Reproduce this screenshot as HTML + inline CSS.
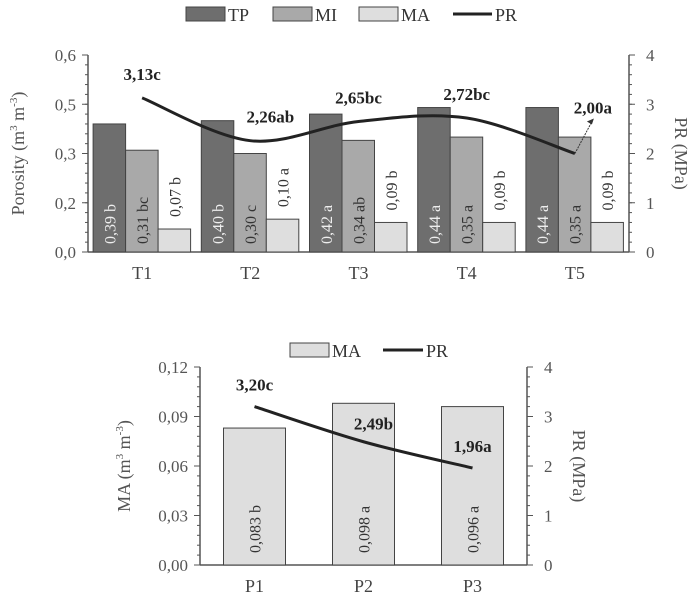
<!DOCTYPE html>
<html><head><meta charset="utf-8"><style>
html,body{margin:0;padding:0;background:#fff;}
svg{display:block;font-family:"Liberation Serif","Times New Roman",serif;}
</style></head><body>
<svg id="c" width="694" height="600"></svg>
<script>
const cats1=["T1","T2","T3","T4","T5"];
const tp=[0.39,0.40,0.42,0.44,0.44];
const mi=[0.31,0.30,0.34,0.35,0.35];
const ma=[0.07,0.10,0.09,0.09,0.09];
const tpLbl=["0,39 b","0,40 b","0,42 a","0,44 a","0,44 a"];
const miLbl=["0,31 bc","0,30 c","0,34 ab","0,35 a","0,35 a"];
const maLbl=["0,07 b","0,10 a","0,09 b","0,09 b","0,09 b"];
const pr1=[3.13,2.26,2.65,2.72,2.00];
const pr1Lbl=["3,13c","2,26ab","2,65bc","2,72bc","2,00a"];
const yTicks1=["0,0","0,2","0,3","0,5","0,6"];
const rTicks=["0","1","2","3","4"];
const cats2=["P1","P2","P3"];
const ma2=[0.083,0.098,0.096];
const ma2Lbl=["0,083 b","0,098 a","0,096 a"];
const pr2=[3.20,2.49,1.96];
const pr2Lbl=["3,20c","2,49b","1,96a"];
const yTicks2=["0,00","0,03","0,06","0,09","0,12"];

const svg=document.getElementById('c');
const NS="http://www.w3.org/2000/svg";
function el(t,a,p){const e=document.createElementNS(NS,t);for(const k in a)e.setAttribute(k,a[k]);(p||svg).appendChild(e);return e;}
function tx(x,y,s,a,name){const e=el('text',Object.assign({x:x,y:y},a));e.textContent=s;

return e;}
function smooth(pts){let d=`M${pts[0][0]},${pts[0][1]}`;for(let i=0;i<pts.length-1;i++){const p0=pts[i-1]||pts[i],p1=pts[i],p2=pts[i+1],p3=pts[i+2]||p2;
const c1=[p1[0]+(p2[0]-p0[0])/6,p1[1]+(p2[1]-p0[1])/6],c2=[p2[0]-(p3[0]-p1[0])/6,p2[1]-(p3[1]-p1[1])/6];
d+=` C${c1[0]},${c1[1]} ${c2[0]},${c2[1]} ${p2[0]},${p2[1]}`;}return d;}

function axes(L,R,T,B,yLabels,name){
  el('line',{x1:L,y1:T,x2:L,y2:B,stroke:'#555','stroke-width':1.5});
  el('line',{x1:R,y1:T,x2:R,y2:B,stroke:'#555','stroke-width':1.5});
  el('line',{x1:L,y1:B,x2:R,y2:B,stroke:'#555','stroke-width':1.5});
  const n=yLabels.length-1;
  for(let i=0;i<=n;i++){const y=B-(B-T)*i/n;
    el('line',{x1:L-6,y1:y,x2:L,y2:y,stroke:'#555'});
    tx(L-12,y+6,yLabels[i],{'text-anchor':'end','font-size':17,fill:'#555'},name+'-y-tick');
    el('line',{x1:R,y1:y,x2:R+6,y2:y,stroke:'#555'});
    tx(R+17,y+6,rTicks[i],{'font-size':17,fill:'#555'},name+'-y2-tick');
  }
  for(let i=0;i<=20;i++){const y=B-(B-T)*i/20;el('line',{x1:R,y1:y,x2:R+3,y2:y,stroke:'#555'});el('line',{x1:L-3,y1:y,x2:L,y2:y,stroke:'#555'});}
  tx(0,0,'PR (MPa)',{transform:`translate(${R+46},${(T+B)/2}) rotate(90)`,'text-anchor':'middle','font-size':18,fill:'#555'},name+'-y2-title');
}
function barLabel(x,y,s,fill,name){tx(0,0,s,{transform:`translate(${x+6},${y}) rotate(-90)`,'font-size':16,fill:fill},name);}

// Chart 1
{const L=88,R=629,T=55,B=252,yMax=0.6;
 const ys=v=>B-v/yMax*(B-T), yr=v=>B-v/4*(B-T);
 const cw=(R-L)/cats1.length;
 axes(L,R,T,B,yTicks1,"top");
 const t=tx(0,0,'',{transform:`translate(24,${(T+B)/2}) rotate(-90)`,'text-anchor':'middle','font-size':18,fill:'#555'},'top-y-title');
 t.innerHTML='Porosity (m<tspan font-size="11" dy="-7">3</tspan><tspan dy="7"> m</tspan><tspan font-size="11" dy="-7">-3</tspan><tspan dy="7">)</tspan>';
 const bw=32.5;
 cats1.forEach((c,i)=>{const cx=L+cw*i+cw/2;
  const series=[[tp,'#6e6e6e','#eee',tpLbl,'tp'],[mi,'#a9a9a9','#333',miLbl,'mi'],[ma,'#dedede','#333',maLbl,'ma']];
  series.forEach((s,j)=>{const x=cx-49+j*bw;const r=el('rect',{x:x,y:ys(s[0][i]),width:bw,height:B-ys(s[0][i]),fill:s[1],stroke:'#444','stroke-width':1});
   
   
   barLabel(x+bw/2,j==2?ys(s[0][i])-12:B-8,s[3][i],s[2],'bar-label-'+s[4]);
  });
  tx(cx,B+27,c,{'text-anchor':'middle','font-size':18,fill:'#444'},'x-tick-'+c);
 });
 const pts=pr1.map((v,i)=>[L+cw*i+cw/2,yr(v)]);
 const p=el('path',{d:smooth(pts),fill:'none',stroke:'#222','stroke-width':3});
 
 
 const off=[[0,-18],[20,-18],[0,-18],[0,-18],[18,-40]];
 pts.forEach((q,i)=>tx(q[0]+off[i][0],q[1]+off[i][1],pr1Lbl[i],{'text-anchor':'middle','font-size':17,'font-weight':'bold',fill:'#222'},'pr-label'));
 el('line',{x1:pts[4][0],y1:pts[4][1],x2:pts[4][0]+16,y2:pts[4][1]-30,stroke:'#333','stroke-width':1,'stroke-dasharray':'2,1'});
 el('path',{d:`M${pts[4][0]+19},${pts[4][1]-35} l-7,3 l5,3z`,fill:'#333'});
 const lg=[[186,'#6e6e6e','TP'],[273,'#a9a9a9','MI'],[359,'#dedede','MA']];
 lg.forEach(g=>{const r=el('rect',{x:g[0],y:7,width:39,height:14,fill:g[1],stroke:'#444'});
  tx(g[0]+42,21,g[2],{'font-size':18,fill:'#333'},'legend-label');});
 el('line',{x1:453,y1:14,x2:492,y2:14,stroke:'#222','stroke-width':3});
 tx(495,21,'PR',{'font-size':18,fill:'#333'},'legend-label');
}
// Chart 2
{const L=200,R=527,T=367,B=565,yMax=0.12;
 const ys=v=>B-v/yMax*(B-T), yr=v=>B-v/4*(B-T);
 const cw=(R-L)/cats2.length;
 axes(L,R,T,B,yTicks2,"bottom");
 const t=tx(0,0,'',{transform:`translate(${L-70},${(T+B)/2}) rotate(-90)`,'text-anchor':'middle','font-size':18,fill:'#555'},'bottom-y-title');
 t.innerHTML='MA (m<tspan font-size="11" dy="-7">3</tspan><tspan dy="7"> m</tspan><tspan font-size="11" dy="-7">-3</tspan><tspan dy="7">)</tspan>';
 cats2.forEach((c,i)=>{const cx=L+cw*i+cw/2,bw=62;
  const r=el('rect',{x:cx-bw/2,y:ys(ma2[i]),width:bw,height:B-ys(ma2[i]),fill:'#dedede',stroke:'#444'});
  
  
  barLabel(cx,B-12,ma2Lbl[i],'#333','bar-label-ma');
  tx(cx,B+27,c,{'text-anchor':'middle','font-size':18,fill:'#444'},'x-tick-'+c);
 });
 const pts=pr2.map((v,i)=>[L+cw*i+cw/2,yr(v)]);
 const p=el('path',{d:smooth(pts),fill:'none',stroke:'#222','stroke-width':3});
 
 
 const off=[[0,-16],[10,-12],[0,-16]];
 pts.forEach((q,i)=>tx(q[0]+off[i][0],q[1]+off[i][1],pr2Lbl[i],{'text-anchor':'middle','font-size':17,'font-weight':'bold',fill:'#222'},'pr-label'));
 const r=el('rect',{x:290,y:343,width:39,height:14,fill:'#dedede',stroke:'#444'});
 tx(332,357,'MA',{'font-size':18,fill:'#333'},'legend-label');
 el('line',{x1:383,y1:350,x2:423,y2:350,stroke:'#222','stroke-width':3});
 tx(426,357,'PR',{'font-size':18,fill:'#333'},'legend-label');
}
</script>
</body></html>
